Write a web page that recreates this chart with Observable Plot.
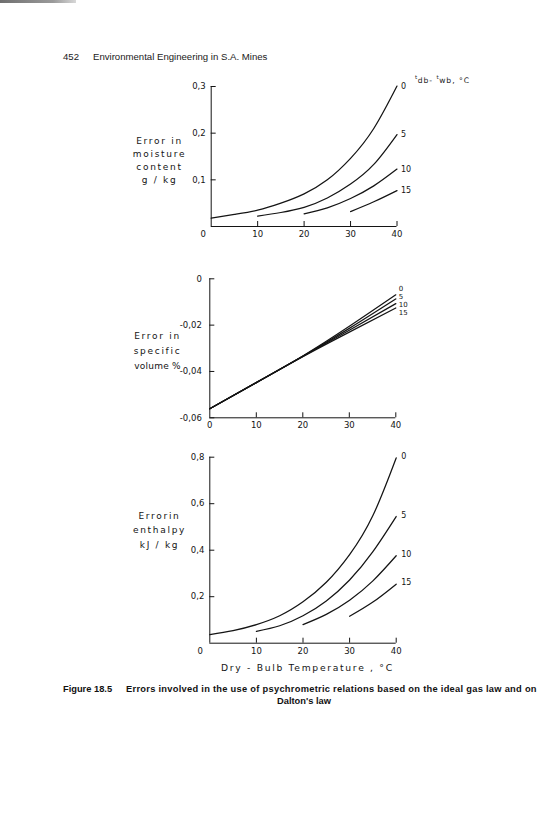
<!DOCTYPE html>
<html>
<head>
<meta charset="utf-8">
<script src="https://cdn.jsdelivr.net/npm/d3@7"></script>
<script src="https://cdn.jsdelivr.net/npm/@observablehq/plot@0.6"></script>
<style>
  body { margin: 0; background: #fff; }
  #page { position: relative; width: 540px; height: 813px; overflow: hidden; background: #fff; }
  .panel { position: absolute; left: 0; }
  .panel svg { display: block; overflow: visible; }
  #smudge { position: absolute; left: 0; top: 0; width: 76px; height: 3px; background: linear-gradient(to right, #6f6f6f, #9a9a9a 70%, #d8d8d8); }
  #header { position: absolute; top: 51px; left: 63px; font-family: "Liberation Sans", Arial, sans-serif; font-size: 9.6px; color: #1a1a1a; white-space: nowrap; }
  #header .num { display: inline-block; width: 30px; }
  #legendTitle { position: absolute; left: 415px; top: 76px; font-family: "DejaVu Sans", sans-serif; font-size: 7.6px; letter-spacing: 1px; color: #222; white-space: nowrap; }
  #legendTitle .t { font-size: 5.5px; position: relative; top: -4px; letter-spacing: 0.5px; }
  .cap { position: absolute; font-family: "Liberation Sans", Arial, sans-serif; font-weight: bold; font-size: 9.3px; color: #111; white-space: nowrap; }
  #cap1 { left: 63px; top: 684px; }
  #cap1 .fig { display: inline-block; width: 63px; }
  #cap1 .rest { letter-spacing: 0.28px; }
  #cap2 { left: 277px; top: 696px; }
</style>
</head>
<body>
<div id="page">
  <div id="smudge"></div>
  <div id="header"><span class="num">452</span>Environmental Engineering in S.A. Mines</div>
  <div id="p1" class="panel" style="top:60px"></div>
  <div id="legendTitle"><span class="t">t</span>db- <span class="t">t</span>wb, °C</div>
  <div id="p2" class="panel" style="top:265px"></div>
  <div id="p3" class="panel" style="top:445px"></div>
  <div id="cap1" class="cap"><span class="fig">Figure 18.5</span><span class="rest">Errors involved in the use of psychrometric relations based on the ideal gas law and on</span></div>
  <div id="cap2" class="cap">Dalton's law</div>
</div>
<script>
// ---- data ----
const depressions = ["0", "5", "10", "15"];          // t_db - t_wb, °C
const xTickValues = [10, 20, 30, 40];                  // dry-bulb temperature ticks

// Error in moisture content, g/kg
const moistureTemps0 = [0, 5, 10, 15, 20, 25, 30, 35, 40];
const moisture0 = [0.018, 0.026, 0.035, 0.050, 0.070, 0.100, 0.146, 0.210, 0.301];
const moistureTemps5 = [10, 15, 20, 25, 30, 35, 40];
const moisture5 = [0.022, 0.030, 0.041, 0.061, 0.091, 0.133, 0.197];
const moistureTemps10 = [20, 25, 30, 35, 40];
const moisture10 = [0.027, 0.040, 0.060, 0.087, 0.123];
const moistureTemps15 = [30, 35, 40];
const moisture15 = [0.032, 0.053, 0.077];
const moistureTicks = [0.1, 0.2, 0.3];

// Error in specific volume, %
const volumeTemps = [0, 10, 20, 30, 40];
const volume0 = [-0.0561, -0.0448, -0.0333, -0.0205, -0.0069];
const volume5 = [-0.0561, -0.0448, -0.0334, -0.0214, -0.0087];
const volume10 = [-0.0561, -0.0448, -0.0335, -0.0222, -0.0107];
const volume15 = [-0.0561, -0.0448, -0.0336, -0.0230, -0.0126];
const volumeLabelY = [-0.0042, -0.0078, -0.0111, -0.0146];
const volumeTicks = [0, -0.02, -0.04, -0.06];

// Error in enthalpy, kJ/kg
const enthalpyTemps0 = [0, 5, 10, 15, 20, 25, 30, 35, 40];
const enthalpy0 = [0.037, 0.054, 0.080, 0.118, 0.178, 0.262, 0.381, 0.549, 0.797];
const enthalpyTemps5 = [10, 15, 20, 25, 30, 35, 40];
const enthalpy5 = [0.051, 0.075, 0.118, 0.182, 0.272, 0.394, 0.545];
const enthalpyTemps10 = [20, 25, 30, 35, 40];
const enthalpy10 = [0.080, 0.124, 0.185, 0.268, 0.376];
const enthalpyTemps15 = [30, 35, 40];
const enthalpy15 = [0.116, 0.177, 0.254];
const enthalpyTicks = [0.2, 0.4, 0.6, 0.8];

// ---- helpers ----
const ink = "#141414";
function rows(xs, ys, dep) { return ys.map((v, i) => ({t: xs[i], v, dep})); }
function endLabels(seriesList, ys) {
  return seriesList.map((s, i) => ({t: s[s.length - 1].t, v: ys ? ys[i] : s[s.length - 1].v, label: depressions[i]}));
}
const comma = (d, n) => d === 0 ? "0" : d.toFixed(n).replace(".", ",");

function panel(el, cfg) {
  const data = cfg.series.flat();
  const chart = Plot.plot({
    width: 540,
    height: cfg.height,
    marginLeft: cfg.ml, marginRight: cfg.mr, marginTop: cfg.mt, marginBottom: cfg.mb,
    x: {domain: [0, 40]},
    y: {domain: cfg.yDomain},
    style: {fontFamily: "DejaVu Sans, sans-serif", fontSize: "8.5px", color: ink, background: "transparent"},
    marks: [
      Plot.ruleX([0], {stroke: ink, strokeWidth: 1}),
      Plot.ruleY([cfg.yDomain[0]], {stroke: ink, strokeWidth: 1}),
      Plot.axisY({ticks: cfg.yTicks, tickSize: -5, tickPadding: cfg.yPad, tickFormat: cfg.yFmt, label: null}),
      Plot.axisX({ticks: xTickValues, tickSize: -5, tickPadding: 9.5, tickFormat: d => String(d), label: null}),
      Plot.axisX({ticks: [0], tickSize: 0, tickPadding: 4.5, dx: cfg.zeroDx, tickFormat: () => "0", label: null}),
      Plot.line(data, {x: "t", y: "v", z: "dep", curve: "natural", stroke: ink, strokeWidth: 1.25}),
      Plot.text(cfg.labels, {x: "t", y: "v", text: "label", textAnchor: "start", dx: cfg.labelDx, dy: cfg.labelDy || 0, fontSize: cfg.labelSize || 8, fill: ink}),
      Plot.text([cfg.title], {frameAnchor: "left", dx: cfg.titleDx, dy: cfg.titleDy, lineHeight: cfg.titleLH, fontSize: 9, textAnchor: "middle", fill: ink}),
      ...(cfg.xTitle ? [Plot.text([cfg.xTitle], {frameAnchor: "bottom", dx: 4.4, dy: 27.3, fontSize: 9.2, fill: ink})] : [])
    ]
  });
  // spaced lettering for the hand-lettered axis titles
  chart.querySelectorAll("text").forEach(t => {
    if (/[A-Za-z]{2}/.test(t.textContent)) t.setAttribute("letter-spacing", "1.7px");
  });
  chart.querySelectorAll("tspan").forEach(s => {
    if (s.textContent.includes("%")) s.setAttribute("letter-spacing", "0.2px");
  });
  document.getElementById(el).appendChild(chart);
}

// moisture panel
const mSeries = [rows(moistureTemps0, moisture0, "0"), rows(moistureTemps5, moisture5, "5"),
                 rows(moistureTemps10, moisture10, "10"), rows(moistureTemps15, moisture15, "15")];
panel("p1", {
  height: 190, ml: 210.7, mr: 143.5, mt: 26, mb: 24,
  yDomain: [0, 0.3], yTicks: moistureTicks, yFmt: d => comma(d, 1), yPad: 10.5,
  zeroDx: -8, series: mSeries, labels: endLabels(mSeries), labelDx: 4,
  title: "Error in\nmoisture\ncontent\ng / kg", titleDx: -51.7, titleDy: 2.7, titleLH: 1.46
});

// specific volume panel
const vSeries = [rows(volumeTemps, volume0, "0"), rows(volumeTemps, volume5, "5"),
                 rows(volumeTemps, volume10, "10"), rows(volumeTemps, volume15, "15")];
panel("p2", {
  height: 170, ml: 209.3, mr: 144.7, mt: 13.3, mb: 17.7,
  yDomain: [-0.06, 0], yTicks: volumeTicks, yFmt: d => comma(d, 2), yPad: 13,
  zeroDx: 0, series: vSeries, labels: endLabels(vSeries, volumeLabelY), labelDx: 3, labelSize: 7,
  title: "Error in\nspecific\nvolume %", titleDx: -52.3, titleDy: 1.2, titleLH: 1.67
});

// enthalpy panel
const eSeries = [rows(enthalpyTemps0, enthalpy0, "0"), rows(enthalpyTemps5, enthalpy5, "5"),
                 rows(enthalpyTemps10, enthalpy10, "10"), rows(enthalpyTemps15, enthalpy15, "15")];
panel("p3", {
  height: 235, ml: 209.3, mr: 144.3, mt: 11.7, mb: 37.3,
  yDomain: [0, 0.8], yTicks: enthalpyTicks, yFmt: d => comma(d, 1), yPad: 10.5,
  zeroDx: -9.5, series: eSeries, labels: endLabels(eSeries), labelDx: 5, labelDy: -1.5,
  title: "Errorin\nenthalpy\nkJ / kg", titleDx: -50.3, titleDy: -21.3, titleLH: 1.59,
  xTitle: "Dry - Bulb Temperature , °C"
});
</script>
</body>
</html>
